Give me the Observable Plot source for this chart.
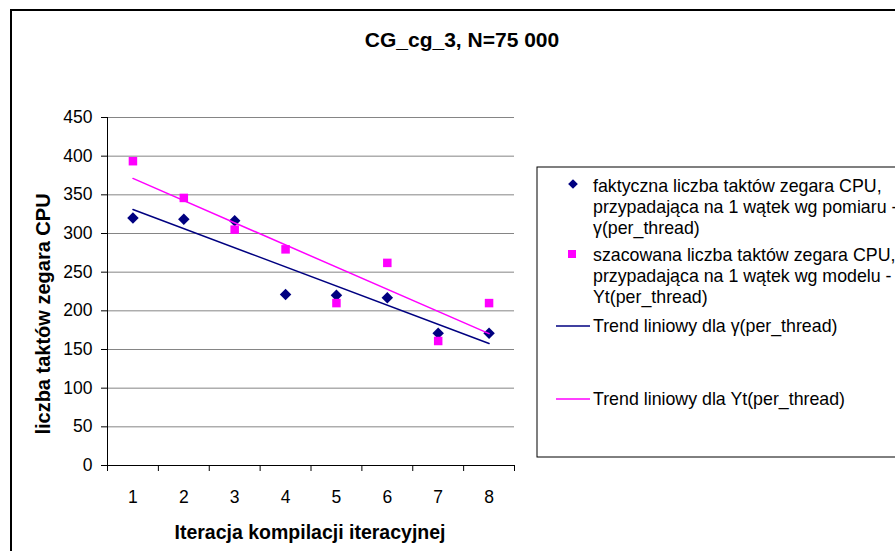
<!DOCTYPE html>
<html>
<head>
<meta charset="utf-8">
<script src="https://cdn.jsdelivr.net/npm/d3@7"></script>
<script src="https://cdn.jsdelivr.net/npm/@observablehq/plot@0.6"></script>
<style>
  body { margin: 0; background: #fff; }
  svg { display: block; }
</style>
</head>
<body>
<div id="chart"></div>
<script>
// Compilation iterations (x categories)
const iterations = [1, 2, 3, 4, 5, 6, 7, 8];
const xTickLabels = ["1", "2", "3", "4", "5", "6", "7", "8"];
// Measured CPU clock ticks per thread, γ(per_thread)
const measured = [320, 318.5, 316.5, 221, 220, 217, 171, 171];
// Model-estimated CPU clock ticks per thread, Yt(per_thread)
const estimated = [393.5, 346, 305, 279.5, 210, 262, 161, 210];
const yTicks = [0, 50, 100, 150, 200, 250, 300, 350, 400, 450];

const chartTitle = "CG_cg_3, N=75 000";
const xTitle = "Iteracja kompilacji iteracyjnej";
const yTitle = "liczba taktów zegara CPU";
const legendMeasured = ["faktyczna liczba taktów zegara CPU,", "przypadająca na 1 wątek wg pomiaru -", "γ(per_thread)"];
const legendEstimated = ["szacowana liczba taktów zegara CPU,", "przypadająca na 1 wątek wg modelu -", "Yt(per_thread)"];
const legendTrendMeasured = "Trend liniowy dla γ(per_thread)";
const legendTrendEstimated = "Trend liniowy dla Yt(per_thread)";

const navy = "#000080";
const magenta = "#FF00FF";
const font = "'Liberation Sans', Arial, sans-serif";

const measuredRows = iterations.map((x, i) => ({x, y: measured[i]}));
const estimatedRows = iterations.map((x, i) => ({x, y: estimated[i]}));
const boundaries = d3.range(0, iterations.length + 1).map(i => i + 0.5);

const svg = Plot.plot({
  width: 895,
  height: 551,
  marginLeft: 107,
  marginRight: 381,
  marginTop: 117,
  marginBottom: 86,
  style: {fontFamily: font, fontSize: "17px", color: "#000", background: "#fff"},
  x: {type: "linear", domain: [0.5, iterations.length + 0.5]},
  y: {domain: [0, 450]},
  marks: [
    Plot.gridY(yTicks.slice(1), {stroke: "#858585", strokeOpacity: 1}),
    Plot.axisY(yTicks, {tickSize: 6, tickPadding: 9, label: null, fontSize: 17.5}),
    Plot.axisX(boundaries, {tickSize: 6, tickFormat: () => "", label: null}),
    Plot.axisX(iterations, {tickSize: 0, tickPadding: 25, label: null, fontSize: 17.5,
      tickFormat: d => xTickLabels[iterations.indexOf(d)]}),
    Plot.ruleX([0.5], {stroke: "#000"}),
    Plot.ruleY([0], {stroke: "#000"}),
    Plot.dot(measuredRows, {x: "x", y: "y", symbol: "diamond2", r: 5.2, fill: navy}),
    Plot.dot(estimatedRows, {x: "x", y: "y", symbol: "square", r: 4.8, fill: magenta}),
    Plot.linearRegressionY(measuredRows, {x: "x", y: "y", stroke: navy, strokeWidth: 1.5, ci: 0}),
    Plot.linearRegressionY(estimatedRows, {x: "x", y: "y", stroke: magenta, strokeWidth: 1.5, ci: 0})
  ]
});

const root = d3.select(svg);

// Outer chart frame
root.append("rect")
  .attr("x", 11).attr("y", 10).attr("width", 920).attr("height", 600)
  .attr("fill", "none").attr("stroke", "#000").attr("stroke-width", 2);

// Chart title
root.append("text")
  .attr("x", 462).attr("y", 47)
  .attr("text-anchor", "middle")
  .attr("font-family", font).attr("font-weight", "bold").attr("font-size", 21)
  .text(chartTitle);

// Axis titles
root.append("text")
  .attr("transform", "translate(50,314) rotate(-90)")
  .attr("text-anchor", "middle")
  .attr("font-family", font).attr("font-weight", "bold").attr("font-size", 20)
  .text(yTitle);

root.append("text")
  .attr("x", 310).attr("y", 539)
  .attr("text-anchor", "middle")
  .attr("font-family", font).attr("font-weight", "bold").attr("font-size", 19.5)
  .text(xTitle);

// Legend
const legend = root.append("g")
  .attr("font-family", font).attr("font-size", 17.8).attr("text-anchor", "start");
legend.append("rect")
  .attr("x", 537).attr("y", 167).attr("width", 400).attr("height", 290)
  .attr("fill", "#fff").attr("stroke", "#000").attr("stroke-width", 1);

legend.append("path")
  .attr("d", d3.symbol(d3.symbolDiamond2, 60)())
  .attr("transform", "translate(573,184)").attr("fill", navy);
legend.append("rect")
  .attr("x", 568).attr("y", 250).attr("width", 8).attr("height", 8).attr("fill", magenta);
legend.append("line")
  .attr("x1", 556).attr("x2", 590).attr("y1", 326).attr("y2", 326)
  .attr("stroke", navy).attr("stroke-width", 1.5);
legend.append("line")
  .attr("x1", 556).attr("x2", 590).attr("y1", 399).attr("y2", 399)
  .attr("stroke", magenta).attr("stroke-width", 1.5);

const addLines = (lines, y0) => {
  lines.forEach((t, i) => {
    legend.append("text").attr("x", 593).attr("y", y0 + i * 21).text(t);
  });
};
addLines(legendMeasured, 192);
addLines(legendEstimated, 261);
addLines([legendTrendMeasured], 332);
addLines([legendTrendEstimated], 405);

document.getElementById("chart").appendChild(svg);
</script>
</body>
</html>
